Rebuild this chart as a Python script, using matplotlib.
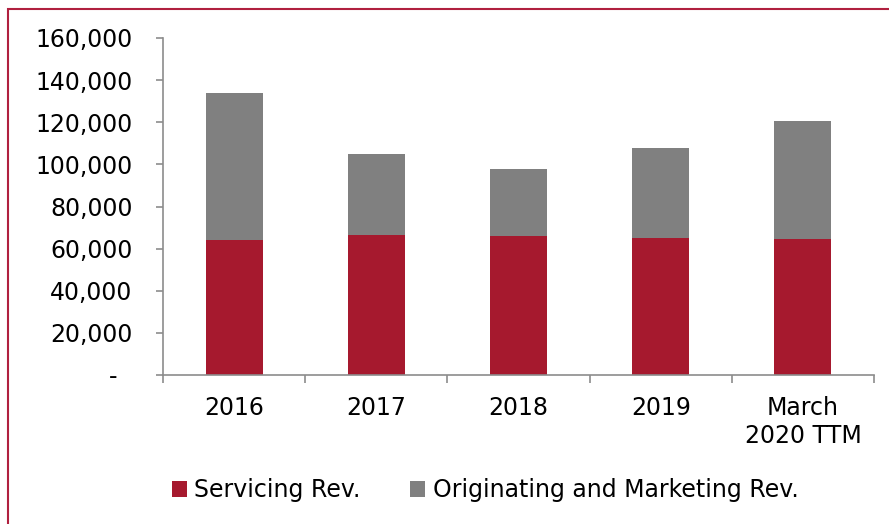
"""Stacked revenue bars: servicing vs originating and marketing."""

import matplotlib
matplotlib.use("Agg")
import matplotlib.pyplot as plt
import numpy as np
from matplotlib.patches import Rectangle
from matplotlib.ticker import FuncFormatter

categories = ["2016", "2017", "2018", "2019", "March\n2020 TTM"]
servicing = [64300, 66300, 66000, 64900, 64400]
originating = [69500, 38400, 31800, 42800, 56400]
series_labels = ["Servicing Rev.", "Originating and Marketing Rev."]

RED = "#A6192E"
GRAY = "#808080"
AXIS = "#8C8C8C"

plt.rcParams["font.family"] = ["DejaVu Sans"]

fig = plt.figure(figsize=(8.89, 5.24), dpi=100)
ax = fig.add_axes([163 / 889, 1 - 375 / 524, (874 - 163) / 889, (375 - 38) / 524])

x = np.arange(len(categories))
width = 0.4
ax.bar(x, servicing, width, color=RED, label=series_labels[0], zorder=2)
ax.bar(x, originating, width, bottom=servicing, color=GRAY, label=series_labels[1], zorder=2)

ax.set_xlim(-0.5, len(categories) - 0.5)
ax.set_ylim(0, 160000)
ax.set_yticks(np.arange(0, 160001, 20000))
ax.yaxis.set_major_formatter(FuncFormatter(lambda v, _: "-  " if v == 0 else f"{int(v):,}"))

# category labels at bar centres, tick marks at the boundaries
ax.set_xticks(x)
ax.set_xticklabels(categories)
ax.set_xticks(np.arange(-0.5, len(categories)), minor=True)
ax.tick_params(axis="x", which="major", length=0, pad=15, labelsize=17)
ax.tick_params(axis="x", which="minor", length=6, width=1.2, color=AXIS)
ax.tick_params(axis="y", length=5, width=1.2, color=AXIS, pad=17, labelsize=17)

for side in ["top", "right"]:
    ax.spines[side].set_visible(False)
for side in ["left", "bottom"]:
    ax.spines[side].set_color(AXIS)
    ax.spines[side].set_linewidth(1.2)

ax.legend(loc="center", bbox_to_anchor=(485 / 889, 1 - 490 / 524),
          bbox_transform=fig.transFigure, ncol=2, frameon=False, fontsize=17,
          handlelength=0.65, handleheight=0.65, handletextpad=0.3, columnspacing=2.1)

# red frame around the chart (runs off the right and bottom edges)
fig.patches.append(Rectangle((8 / 889, -0.1), 1.2, 1.1 - 9 / 524, transform=fig.transFigure,
                             fill=False, edgecolor="#B0203F", linewidth=1.5))

fig.savefig("out.png", dpi=100)
plt.close(fig)
